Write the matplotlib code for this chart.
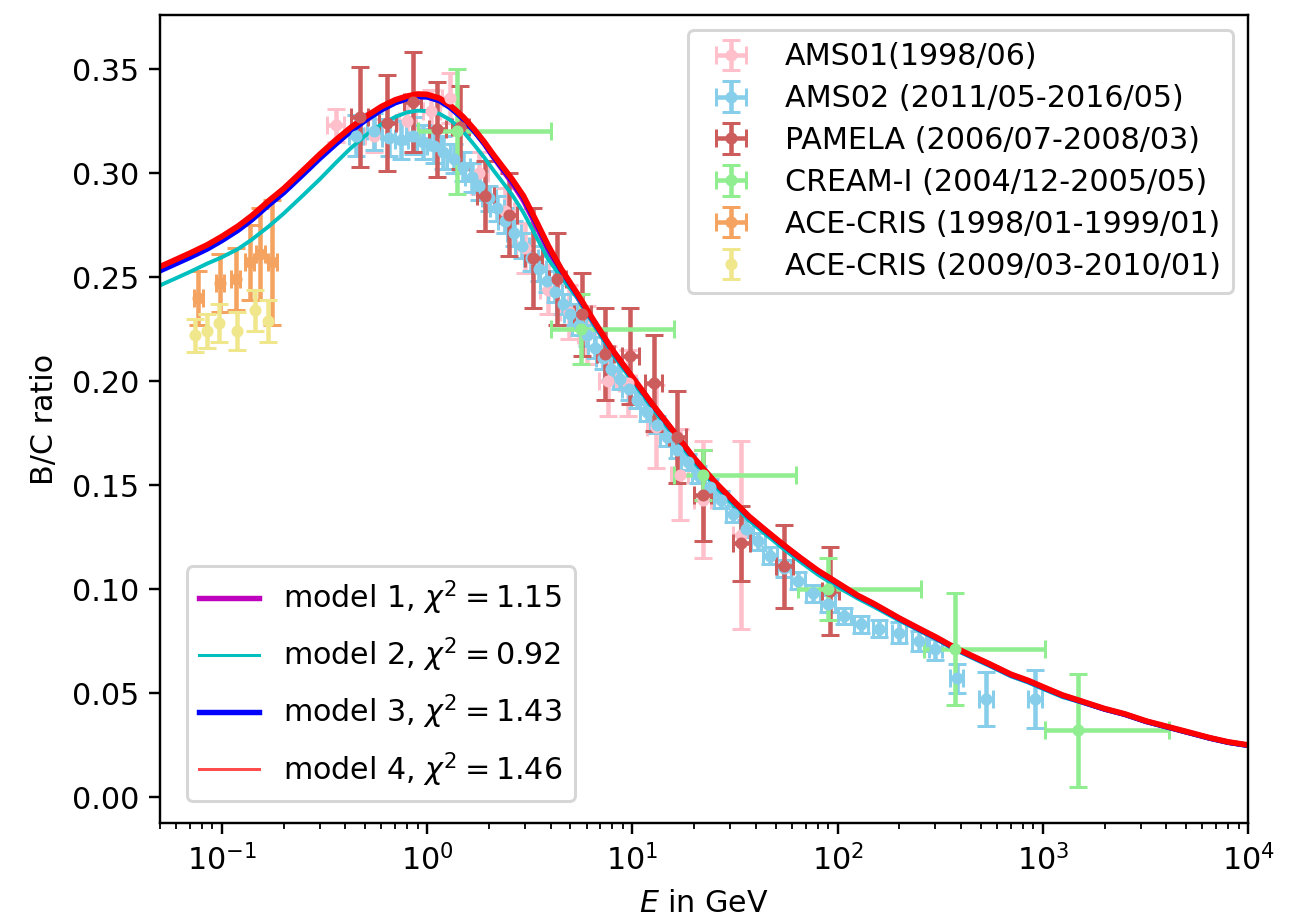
import matplotlib.pyplot as plt
from matplotlib.lines import Line2D
import numpy as np

# model curves
e_model = [0.05, 0.06, 0.07, 0.085, 0.1, 0.12, 0.14, 0.17, 0.2, 0.25,
           0.3, 0.36, 0.42, 0.5, 0.6, 0.7, 0.8, 0.9, 1.0, 1.15,
           1.3, 1.5, 1.7, 1.9, 2.1, 2.6, 2.95, 3.4, 3.9, 4.5,
           5.4, 6.5, 8, 10, 12.5, 15, 20, 25, 30, 37,
           45, 55, 66, 80, 100, 125, 150, 200, 250, 300,
           370, 450, 550, 700, 850, 1000, 1250, 1500, 2000, 2500,
           3200, 4000, 5000, 6500, 8000, 10000]
model1 = [.2538, .2572, .2602, .2642, .2682, .2732, .2782, .2855, .2912, .3002,
          .3077, .3147, .3202, .3257, .3307, .3340, .3360, .3368, .3368, .3352,
          .3320, .3267, .3205, .3142, .3078, .2952, .2868, .2748, .2628, .2522,
          .2405, .2278, .2140, .2012, .1884, .1784, .1624, .1514, .1434, .1344,
          .1274, .1204, .1144, .1084, .1024, .0964, .0925, .0855, .0805, .0765,
          .0716, .0676, .0636, .0586, .0556, .0526, .0487, .0462, .0423, .0398,
          .0363, .0338, .0313, .0284, .0264, .0249]
model2 = [.246, .2495, .2525, .2565, .2595, .2635, .268, .2745, .2805, .2895,
          .297, .305, .3115, .318, .3235, .327, .3292, .330, .3298, .3285,
          .3255, .320, .3135, .3075, .3015, .2895, .281, .2695, .2585, .250,
          .240, .227, .213, .200, .187, .177, .161, .150, .142, .133,
          .126, .119, .113, .107, .101, .0955, .0915, .0848, .080, .076,
          .071, .067, .063, .058, .055, .052, .048, .0458, .042, .0395,
          .036, .0335, .031, .028, .026, .0245]
model3 = [.253, .2565, .2595, .2635, .2675, .2725, .2775, .2848, .2905, .2995,
          .307, .314, .3197, .3253, .3304, .3338, .3358, .3368, .3366, .3348,
          .3314, .3261, .3201, .3142, .3082, .2962, .2882, .2762, .2642, .2535,
          .2415, .2287, .2148, .2018, .1888, .1788, .1628, .1518, .1438, .1348,
          .1278, .1208, .1148, .1088, .1028, .0968, .0928, .0858, .0808, .0768,
          .0718, .0678, .0638, .0588, .0558, .0528, .0488, .0463, .0423, .0398,
          .0363, .0338, .0313, .0283, .0263, .0248]
model4 = [.255, .2585, .2615, .2655, .2695, .2745, .2795, .2868, .2925, .3015,
          .309, .316, .3215, .327, .332, .3352, .337, .338, .3378, .336,
          .3325, .327, .321, .315, .309, .297, .289, .277, .265, .254,
          .242, .229, .215, .202, .189, .179, .163, .152, .144, .135,
          .128, .121, .115, .109, .103, .097, .093, .086, .081, .077,
          .072, .068, .064, .059, .056, .053, .049, .0465, .0425, .040,
          .0365, .034, .0315, .0285, .0265, .025]
chi2 = [1.15, 0.92, 1.43, 1.46]

# AMS01
ams01_e = [0.36, 0.55, 0.8, 1.05, 1.3, 1.8, 2.4, 3.0, 3.9, 4.9, 6.0, 7.6, 9.5, 13, 17, 22, 34]
ams01_v = [0.323, 0.318, 0.325, 0.330, 0.336, 0.300, 0.282, 0.264, 0.244, 0.233, 0.222, 0.200, 0.199, 0.178, 0.155, 0.143, 0.126]
ams01_ye = [0.008, 0.008, 0.009, 0.010, 0.012, 0.010, 0.011, 0.012, 0.012, 0.013, 0.014, 0.017, 0.016, 0.020, 0.022, 0.028, 0.045]
# AMS02
ams02_e = [0.45, 0.55, 0.65, 0.75, 0.85, 0.96, 1.08, 1.2, 1.35, 1.5, 1.65, 1.8, 2.0, 2.2, 2.4, 2.65,
           2.9, 3.2, 3.5, 3.85, 4.2, 4.6, 5.0, 5.5, 6.0, 6.6, 7.2, 7.9, 8.7, 9.6, 10.6, 11.8, 13.2,
           14.8, 16.6, 18.7, 21, 24, 27, 31, 36, 41, 47, 55, 64, 76, 90, 108, 130, 160, 200, 250,
           300, 380, 530, 920]
ams02_v = [0.318, 0.320, 0.317, 0.316, 0.318, 0.315, 0.313, 0.310, 0.307, 0.303, 0.298, 0.294, 0.288, 0.283, 0.277, 0.271,
           0.265, 0.259, 0.254, 0.248, 0.243, 0.237, 0.232, 0.227, 0.222, 0.216, 0.211, 0.206, 0.201, 0.196, 0.191, 0.185, 0.179,
           0.173, 0.167, 0.161, 0.155, 0.149, 0.143, 0.136, 0.129, 0.123, 0.116, 0.110, 0.104, 0.098, 0.093, 0.087, 0.083, 0.081, 0.079, 0.075,
           0.071, 0.057, 0.047, 0.047]
ams02_ye = [0.010, 0.009, 0.009, 0.009, 0.009, 0.008, 0.008, 0.008, 0.007, 0.007, 0.007, 0.007, 0.006, 0.006, 0.006, 0.006,
            0.006, 0.006, 0.006, 0.005, 0.005, 0.005, 0.005, 0.005, 0.005, 0.005, 0.005, 0.005, 0.005, 0.005, 0.004, 0.004, 0.004,
            0.004, 0.004, 0.004, 0.004, 0.004, 0.004, 0.004, 0.004, 0.004, 0.004, 0.004, 0.004, 0.004, 0.004, 0.004, 0.004, 0.004, 0.005, 0.005,
            0.005, 0.007, 0.013, 0.014]
# PAMELA
pam_e = [0.47, 0.64, 0.85, 1.12, 1.45, 1.92, 2.5, 3.3, 4.3, 5.7, 7.4, 9.8, 12.7, 16.6, 22, 34, 55, 92]
pam_v = [0.327, 0.324, 0.334, 0.321, 0.322, 0.289, 0.280, 0.259, 0.249, 0.232, 0.213, 0.212, 0.199, 0.173, 0.145, 0.122, 0.111, 0.099]
pam_ye = [0.024, 0.023, 0.024, 0.023, 0.020, 0.017, 0.020, 0.024, 0.022, 0.020, 0.022, 0.023, 0.023, 0.022, 0.022, 0.018, 0.020, 0.021]
# CREAM-I
cream_e = [1.4, 5.6, 22, 90, 372, 1480]
cream_v = [0.320, 0.225, 0.155, 0.100, 0.071, 0.032]
cream_lo = [0.9, 4.0, 16, 64, 263, 1020]
cream_hi = [4.0, 16, 63, 255, 1020, 4100]
cream_ye = [0.030, 0.017, 0.012, 0.015, 0.027, 0.027]
# ACE-CRIS
ace1_e = [0.077, 0.098, 0.117, 0.137, 0.154, 0.176]
ace1_v = [0.240, 0.247, 0.249, 0.257, 0.261, 0.257]
ace1_ye = [0.013, 0.014, 0.015, 0.018, 0.022, 0.030]
ace2_e = [0.074, 0.085, 0.097, 0.118, 0.145, 0.168]
ace2_v = [0.222, 0.224, 0.228, 0.224, 0.234, 0.229]
ace2_ye = [0.008, 0.008, 0.009, 0.009, 0.010, 0.010]

fig, ax = plt.subplots(1, 1, figsize=(1293/217, 914/217), dpi=217)
fig.subplots_adjust(left=160/1293, right=1248/1293, top=1-15/914, bottom=1-823/914)

def logerr(e, f=0.06):
    e = np.array(e)
    return [e - e/(1+f), e*f]

kw = dict(fmt='o', ms=3, capsize=3)
ax.errorbar(ams01_e, ams01_v, yerr=ams01_ye, xerr=logerr(ams01_e, 0.1), color='pink', label='AMS01(1998/06)', **kw)
ax.errorbar(ams02_e, ams02_v, yerr=ams02_ye, xerr=logerr(ams02_e, 0.08), color='skyblue', label='AMS02 (2011/05-2016/05)', **kw)
ax.errorbar(pam_e, pam_v, yerr=pam_ye, xerr=logerr(pam_e, 0.1), color='indianred', label='PAMELA (2006/07-2008/03)', **kw)
cream_xe = [np.array(cream_e) - np.array(cream_lo), np.array(cream_hi) - np.array(cream_e)]
ax.errorbar(cream_e, cream_v, yerr=cream_ye, xerr=cream_xe, color='lightgreen', label='CREAM-I (2004/12-2005/05)', **kw)
ax.errorbar(ace1_e, ace1_v, yerr=ace1_ye, xerr=logerr(ace1_e, 0.05), color='sandybrown', label='ACE-CRIS (1998/01-1999/01)', **kw)
ax.errorbar(ace2_e, ace2_v, yerr=ace2_ye, color='khaki', label='ACE-CRIS (2009/03-2010/01)', **kw)

leg1 = ax.legend(loc='upper right', labelspacing=0.43)
ax.add_artist(leg1)

colors = ['m', 'c', 'b', 'r']
widths = [1.8, 1.3, 1.8, 1.9]
leg_widths = [1.8, 1.0, 1.8, 1.0]
handles = []
for i, m in enumerate([model1, model2, model3, model4]):
    ax.plot(e_model, m, color=colors[i], lw=widths[i])
    handles.append(Line2D([], [], color=colors[i], lw=leg_widths[i], alpha=1 if i < 3 else 0.7))
labels = [rf"model {i+1}, $\chi^2 = {c:.2f}$" for i, c in enumerate(chi2)]
ax.legend(handles, labels, loc='lower left', bbox_to_anchor=(0.011, 0.009), labelspacing=0.62)

ax.set_xscale('log')
ax.set_xlim(0.05, 1e4)
ax.set_ylim(-0.0125, 0.376)
ax.set_xlabel(r"$E$ in GeV")
ax.set_ylabel("B/C ratio")
fig.savefig("out.png", dpi=217)
